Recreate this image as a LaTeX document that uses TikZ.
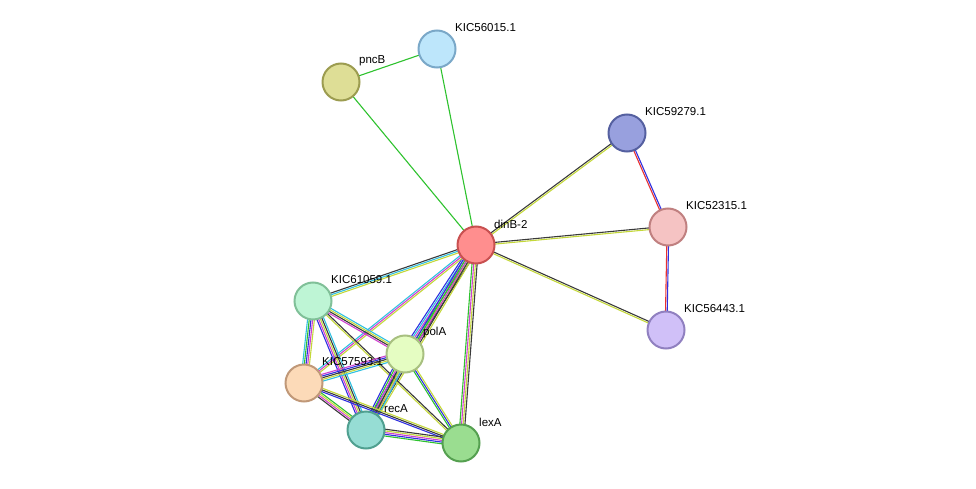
\documentclass[tikz,border=0pt]{standalone}
\usepackage{fontspec}
\setmainfont{Liberation Sans}
\usetikzlibrary{calc}
\definecolor{cg}{HTML}{2EC22E}\definecolor{cy}{HTML}{C4D83A}\definecolor{ck}{HTML}{3A3A3A}
\definecolor{cm}{HTML}{D040D0}\definecolor{cc}{HTML}{30C0E0}\definecolor{cb}{HTML}{3030E0}\definecolor{cr}{HTML}{E83030}
\newcommand\E[4]{\foreach \c [count=\i] in {#4}{\pgfmathsetmacro\o{(\i-1-(#3-1)/2)*1.7}
 \draw[draw=\c,line width=1.1pt] ($(#1)!\o pt!90:(#2)$) -- ($(#2)!\o pt!-90:(#1)$);}}
\newcommand\N[6]{\definecolor{f#1}{HTML}{#4}\definecolor{d#1}{HTML}{#5}
 \node[nd,fill=f#1,draw=d#1] (#1) at (#2,#3) {};
 \node[lb] (l#1) at ($(#2,#3)+(18,-21)$) {#6};}
\begin{document}
\begin{tikzpicture}[x=1pt,y=-1pt,nd/.style={circle,minimum size=37pt,inner sep=0pt,line width=2pt},
 lb/.style={anchor=west,inner sep=0pt,font=\fontsize{11.5}{13}\selectfont}]
\useasboundingbox (0,0) rectangle (976,489);
\coordinate (dinB) at (476,245);\coordinate (s56015) at (437,49);\coordinate (pncB) at (341,82);
\coordinate (s59279) at (627,133);\coordinate (s52315) at (668,227);\coordinate (s56443) at (666,330);
\coordinate (s61059) at (313,301);\coordinate (polA) at (405,354);\coordinate (s57593) at (304,383);
\coordinate (recA) at (366,430);\coordinate (lexA) at (461,443);
\E{pncB}{s56015}{1}{cg}\E{pncB}{dinB}{1}{cg}\E{s56015}{dinB}{1}{cg}
\E{s59279}{dinB}{2}{ck,cy}\E{s59279}{s52315}{2}{cr,cb}\E{s52315}{dinB}{2}{ck,cy}
\E{s52315}{s56443}{2}{cr,cb}\E{s56443}{dinB}{2}{ck,cy}
\E{dinB}{s61059}{3}{ck,cc,cy}
\E{dinB}{polA}{6}{cb,cc,cm,cg,cy,ck}
\E{dinB}{s57593}{3}{cc,cm,cy}
\E{dinB}{recA}{5}{cb,cg,cm,ck,cy}
\E{dinB}{lexA}{4}{cg,cm,cy,ck}
\E{s61059}{polA}{4}{cm,ck,cy,cc}
\E{s61059}{s57593}{5}{cc,cg,cb,cm,cy}
\E{s61059}{recA}{5}{cb,cm,cy,ck,cc}
\E{s61059}{lexA}{2}{cy,ck}
\E{polA}{s57593}{5}{cm,cb,ck,cy,cc}
\E{polA}{recA}{6}{cb,cg,cm,ck,cy,cc}
\E{polA}{lexA}{3}{cg,cb,cy}
\E{s57593}{recA}{4}{ck,cm,cy,cg}
\E{s57593}{lexA}{3}{cb,ck,cy}
\E{recA}{lexA}{5}{cg,cb,cm,cy,ck}
\N{dinB}{476}{245}{FF8E8E}{C85050}{dinB-2}
\N{s56015}{437}{49}{BDE6FB}{7AA8C8}{KIC56015.1}
\N{pncB}{341}{82}{DEDE96}{9C9C50}{pncB}
\N{s59279}{627}{133}{98A0DE}{5560A0}{KIC59279.1}
\N{s52315}{668}{227}{F5C3C3}{C08080}{KIC52315.1}
\N{s56443}{666}{330}{D0C0F8}{9080C0}{KIC56443.1}
\N{s61059}{313}{301}{BEF5D5}{80C098}{KIC61059.1}
\N{polA}{405}{354}{E5FDC2}{A8C080}{polA}
\N{s57593}{304}{383}{FCDAB8}{C09878}{KIC57593.1}
\N{recA}{366}{430}{96DDD4}{50A090}{recA}
\N{lexA}{461}{443}{9ADD90}{55A050}{lexA}
\end{tikzpicture}
\end{document}
